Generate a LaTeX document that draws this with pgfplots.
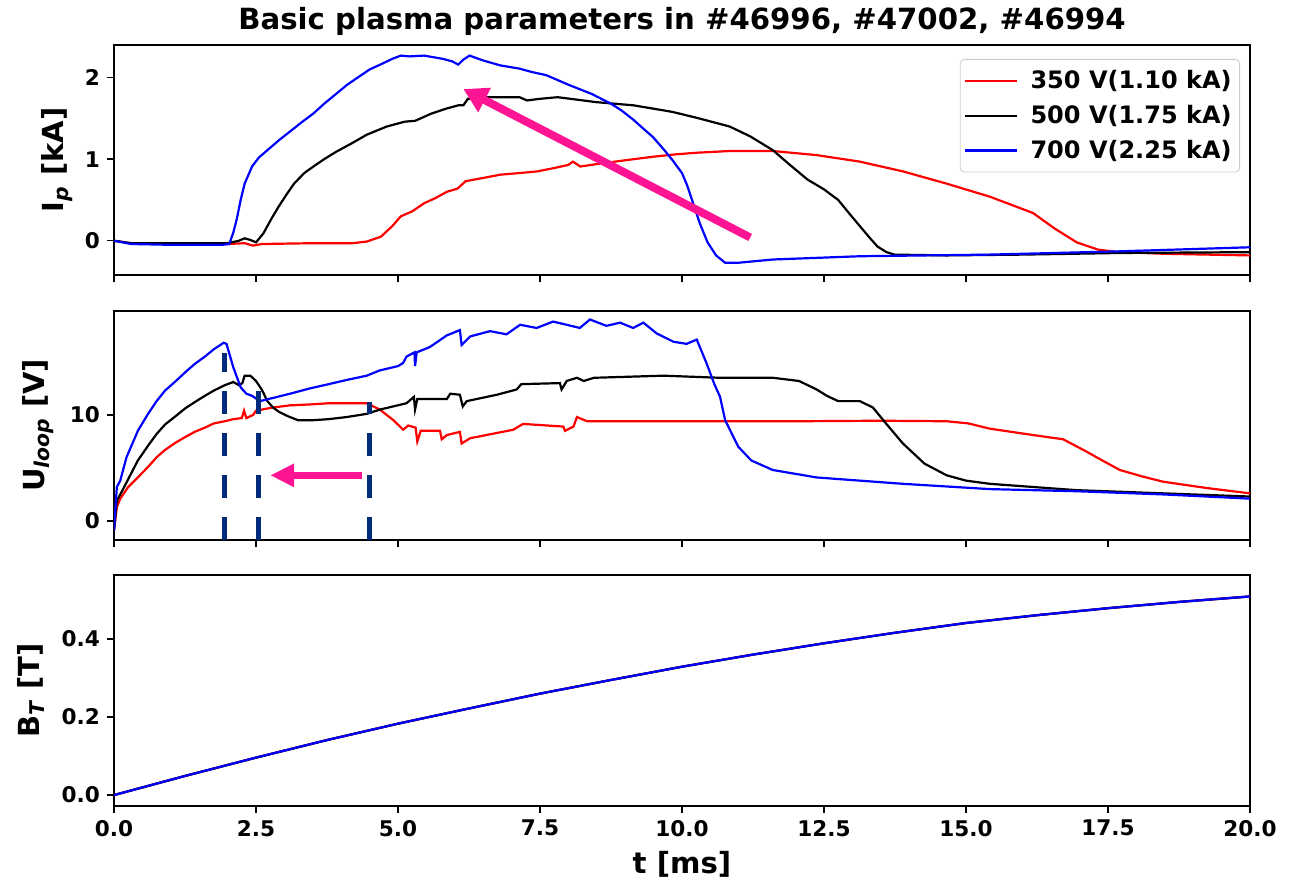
\documentclass[border=0pt]{standalone}
\usepackage{fontspec}
\setmainfont{DejaVu Sans}
\usepackage{pgfplots}
\pgfplotsset{compat=1.18}
\usetikzlibrary{arrows.meta}
\definecolor{pinkc}{RGB}{255,20,147}
\definecolor{navyc}{RGB}{0,42,122}
\definecolor{redc}{RGB}{255,0,0}
\definecolor{bluec}{RGB}{0,0,255}

\pgfplotstableread{
t B
0 0
1.25 0.049
2.5 0.096
3.75 0.141
5 0.183
6.25 0.222
7.5 0.260
8.75 0.295
10 0.329
11.25 0.360
12.5 0.389
13.75 0.416
15 0.441
16.25 0.461
17.5 0.479
18.75 0.495
20 0.509
}\btdata

\pgfplotsset{
 myaxis/.style={
  scale only axis, width=568pt,
  xmin=0, xmax=20,
  xtick={0,2.5,5,7.5,10,12.5,15,17.5,20},
  tick align=outside, tick pos=left,
  major tick length=3.5pt,
  every tick/.style={black, line width=0.75pt},
  axis line style={line width=0.8pt},
  /pgf/number format/assume math mode=true,
  tick label style={font=\fontsize{10.8}{13}\selectfont\bfseries},
  ylabel style={anchor=center, font=\fontsize{14.5}{17}\selectfont\bfseries},
  every axis plot/.append style={line width=1.1pt},
 }
}

\begin{document}
\begin{tikzpicture}
\path (-57pt,-37.5pt) rectangle (593.5pt,403pt);

% ---------------- top: Ip
\begin{axis}[myaxis, at={(0,265.5pt)}, height=115pt,
  ymin=-0.42, ymax=2.40, ytick={0,1,2},
  xticklabel=\empty,
  ylabel={I\textsubscript{\textit{p}} [kA]},
  ylabel style={at={(axis description cs:-0.0502,0.5)}},
  title={Basic plasma parameters in \#46996, \#47002, \#46994},
  title style={at={(rel axis cs:0.5,1)}, anchor=base, yshift=1.5pt, font=\fontsize{14.6}{17}\selectfont\bfseries},
  legend style={at={(rel axis cs:1,1)}, anchor=north east, xshift=-5pt, yshift=-7pt,
    draw=black!20, rounded corners=2pt, fill=white,
    font=\fontsize{12}{14}\selectfont\bfseries, cells={anchor=west},
    inner xsep=2pt, inner ysep=3.5pt, row sep=2.75pt},
  legend image code/.code={\draw[#1, line width=1.1pt] (0pt,0pt) -- (26pt,0pt); \path (30pt,0pt);},
]
\addplot[redc] coordinates {(0,0) (0.3,-0.03) (1,-0.04) (2,-0.04) (2.3,-0.03) (2.45,-0.06) (2.6,-0.04) (3.5,-0.03) (4.2,-0.03) (4.45,-0.01) (4.7,0.05) (4.9,0.18) (5.05,0.30) (5.25,0.36) (5.46,0.46) (5.65,0.52) (5.86,0.60) (6.05,0.64) (6.19,0.73) (6.5,0.77) (6.8,0.81) (7.14,0.83) (7.45,0.85) (7.74,0.89) (8.0,0.93) (8.08,0.97) (8.21,0.91) (8.5,0.94) (8.82,0.97) (9.15,1.00) (9.49,1.03) (9.9,1.06) (10.28,1.08) (10.84,1.10) (11.6,1.10) (12.37,1.05) (13.13,0.97) (13.89,0.85) (14.66,0.70) (15.42,0.54) (16.18,0.34) (16.56,0.15) (16.95,-0.02) (17.33,-0.11) (17.71,-0.14) (18.5,-0.16) (20,-0.18)};
\addlegendentry{350 V(1.10 kA)}
\addplot[black] coordinates {(0,0) (0.3,-0.03) (1,-0.03) (2.0,-0.03) (2.2,0.0) (2.3,0.03) (2.4,0.01) (2.5,-0.02) (2.63,0.09) (2.78,0.28) (2.9,0.42) (3.05,0.58) (3.17,0.70) (3.35,0.83) (3.51,0.91) (3.7,1.00) (3.91,1.09) (4.2,1.20) (4.45,1.30) (4.8,1.40) (5.12,1.46) (5.3,1.47) (5.59,1.56) (5.85,1.62) (6.06,1.66) (6.15,1.66) (6.23,1.74) (6.5,1.76) (6.8,1.76) (7.14,1.76) (7.27,1.72) (7.5,1.74) (7.81,1.76) (8.15,1.73) (8.48,1.70) (9.15,1.66) (9.83,1.58) (10.3,1.50) (10.84,1.40) (11.2,1.28) (11.6,1.11) (11.9,0.93) (12.21,0.75) (12.5,0.63) (12.75,0.50) (12.95,0.33) (13.13,0.18) (13.3,0.04) (13.44,-0.07) (13.6,-0.14) (13.74,-0.17) (14.66,-0.18) (16,-0.17) (17.71,-0.15) (20,-0.14)};
\addlegendentry{500 V(1.75 kA)}
\addplot[bluec] coordinates {(0,0) (0.3,-0.04) (1,-0.05) (1.9,-0.05) (2.03,-0.04) (2.1,0.1) (2.16,0.26) (2.23,0.5) (2.30,0.70) (2.43,0.91) (2.55,1.02) (2.70,1.11) (2.9,1.23) (3.10,1.34) (3.3,1.45) (3.51,1.56) (3.7,1.68) (3.91,1.80) (4.1,1.91) (4.31,2.01) (4.5,2.10) (4.72,2.17) (4.9,2.23) (5.05,2.27) (5.2,2.26) (5.46,2.27) (5.79,2.23) (5.95,2.20) (6.06,2.16) (6.15,2.22) (6.26,2.27) (6.5,2.21) (6.8,2.15) (7.14,2.11) (7.35,2.07) (7.61,2.03) (8.01,1.91) (8.41,1.80) (8.75,1.68) (8.93,1.60) (9.15,1.48) (9.31,1.38) (9.49,1.27) (9.69,1.11) (9.83,0.99) (10.0,0.83) (10.09,0.68) (10.2,0.45) (10.31,0.22) (10.45,-0.02) (10.6,-0.18) (10.76,-0.27) (10.99,-0.27) (11.6,-0.23) (13.13,-0.19) (15.42,-0.17) (17.7,-0.13) (20,-0.08)};
\addlegendentry{700 V(2.25 kA)}
\addplot[forget plot, pinkc, line width=4pt, -{Triangle[length=12pt,width=13pt]}] coordinates {(11.2,0.04) (6.15,1.86)};
\end{axis}

% ---------------- middle: Uloop
\begin{axis}[myaxis, at={(0,133pt)}, height=114.5pt,
  ymin=-1.8, ymax=19.8, ytick={0,10},
  xticklabel=\empty,
  ylabel={U\textsubscript{\textit{loop}} [V]},
  ylabel style={at={(axis description cs:-0.0669,0.5)}},
]
\addplot[redc] coordinates {(0,-0.9) (0.05,1.3) (0.11,2.1) (0.25,3.2) (0.42,4.1) (0.6,5.1) (0.75,6.0) (0.9,6.7) (1.09,7.4) (1.25,7.9) (1.42,8.4) (1.6,8.8) (1.76,9.2) (1.95,9.4) (2.10,9.6) (2.25,9.7) (2.29,10.4) (2.33,9.7) (2.45,10.0) (2.50,10.4) (2.8,10.7) (3.10,10.9) (3.5,11.0) (3.78,11.1) (4.45,11.1) (4.68,10.5) (4.92,9.5) (5.09,8.6) (5.18,9.0) (5.31,8.8) (5.34,7.5) (5.40,8.5) (5.74,8.5) (5.77,7.7) (5.86,8.1) (6.09,8.4) (6.12,7.3) (6.27,7.8) (7.03,8.6) (7.20,9.15) (7.91,8.9) (7.94,8.5) (8.09,8.9) (8.15,9.8) (8.33,9.4) (10.67,9.4) (12,9.4) (13.5,9.45) (14.66,9.4) (15.04,9.2) (15.42,8.7) (16.18,8.1) (16.71,7.7) (17.1,6.6) (17.4,5.7) (17.71,4.8) (18.1,4.2) (18.47,3.7) (19.24,3.1) (20,2.6)};
\addplot[black] coordinates {(0,-0.9) (0.05,1.9) (0.15,2.9) (0.42,5.7) (0.6,7.1) (0.75,8.2) (0.9,9.1) (1.09,9.9) (1.25,10.6) (1.42,11.2) (1.6,11.8) (1.76,12.3) (1.95,12.8) (2.10,13.1) (2.20,12.8) (2.26,13.0) (2.30,13.7) (2.40,13.7) (2.50,13.2) (2.60,12.4) (2.70,11.3) (2.80,10.7) (2.90,10.3) (3.05,9.9) (3.24,9.5) (3.5,9.5) (3.78,9.6) (4.1,9.8) (4.45,10.1) (4.68,10.5) (5.15,11.1) (5.28,11.7) (5.30,10.5) (5.34,11.5) (5.86,11.5) (5.92,12.0) (6.09,11.9) (6.14,10.8) (6.21,11.3) (6.74,11.9) (7.09,12.4) (7.17,12.9) (7.85,13.0) (7.88,12.4) (7.97,13.2) (8.15,13.5) (8.27,13.2) (8.45,13.5) (9.67,13.7) (10.67,13.5) (11.6,13.5) (12.06,13.2) (12.37,12.4) (12.55,11.8) (12.75,11.3) (13.13,11.3) (13.36,10.7) (13.59,9.2) (13.89,7.3) (14.27,5.4) (14.66,4.3) (15.0,3.8) (15.42,3.5) (16.18,3.2) (16.95,2.9) (18.47,2.6) (20,2.3)};
\addplot[bluec] coordinates {(0,-0.9) (0.05,3.2) (0.11,3.8) (0.22,6.0) (0.42,8.5) (0.6,10.1) (0.75,11.3) (0.9,12.3) (1.09,13.2) (1.25,14.0) (1.42,14.8) (1.6,15.5) (1.76,16.2) (1.93,16.8) (1.98,16.7) (2.10,14.5) (2.23,12.6) (2.33,12.0) (2.43,11.8) (2.57,11.3) (2.8,11.6) (3.10,12.0) (3.45,12.5) (3.78,12.9) (4.1,13.3) (4.45,13.7) (4.68,14.2) (5.0,14.6) (5.09,14.9) (5.15,15.5) (5.29,15.9) (5.30,14.6) (5.33,15.9) (5.56,16.4) (5.86,17.5) (6.09,18.0) (6.12,16.6) (6.27,17.4) (6.62,17.9) (6.91,17.6) (7.15,18.5) (7.44,18.2) (7.73,18.8) (7.97,18.5) (8.20,18.2) (8.38,19.0) (8.67,18.4) (8.91,18.7) (9.14,18.2) (9.32,18.7) (9.55,17.7) (9.85,16.9) (10.08,16.7) (10.26,17.1) (10.43,14.9) (10.57,12.9) (10.67,11.7) (10.76,9.5) (10.99,7.0) (11.22,5.7) (11.6,4.8) (12.37,4.1) (13.13,3.8) (13.89,3.5) (15.42,3.0) (16.95,2.8) (18.47,2.5) (20,2.1)};
\addplot[navyc, line width=2.5pt, dash pattern=on 11.5pt off 9.5pt] coordinates {(1.94,-1.8) (1.94,15.8)};
\addplot[navyc, line width=2.5pt, dash pattern=on 11.5pt off 9.5pt] coordinates {(2.54,-1.8) (2.54,12.5)};
\addplot[navyc, line width=2.5pt, dash pattern=on 11.5pt off 9.5pt] coordinates {(4.49,-1.8) (4.49,11.2)};
\addplot[pinkc, line width=3.5pt, -{Triangle[length=12pt,width=11pt]}] coordinates {(4.37,4.3) (2.75,4.3)};
\end{axis}

% ---------------- bottom: BT
\begin{axis}[myaxis, at={(0,0)}, height=115.5pt,
  ymin=-0.028, ymax=0.564, ytick={0,0.2,0.4},
  yticklabel style={/pgf/number format/.cd, fixed, fixed zerofill, precision=1},
  xticklabel style={/pgf/number format/.cd, fixed, fixed zerofill, precision=1},
  ylabel={B\textsubscript{\textit{T}} [T]},
  ylabel style={at={(axis description cs:-0.0731,0.5)}},
  xlabel={t [ms]},
  xlabel style={at={(rel axis cs:0.5,0)}, anchor=base, yshift=-33.5pt, font=\fontsize{14.6}{17}\selectfont\bfseries},
]
\addplot[redc] table[x=t, y=B] {\btdata};
\addplot[black] table[x=t, y=B] {\btdata};
\addplot[bluec] table[x=t, y=B] {\btdata};
\end{axis}
\end{tikzpicture}
\end{document}
